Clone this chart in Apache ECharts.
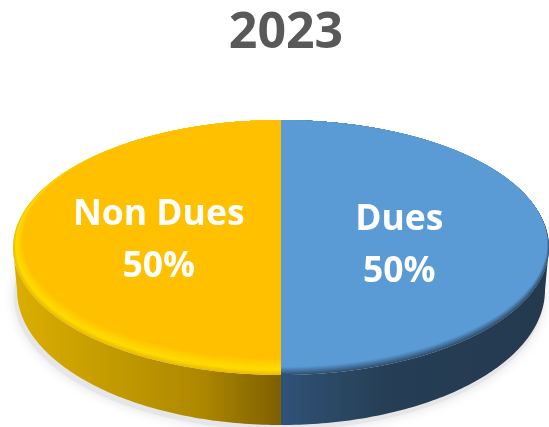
<!DOCTYPE html>
<html>
<head>
<meta charset="utf-8">
<style>html,body{margin:0;padding:0;background:#fff}#c{width:549px;height:427px}</style>
<script src="https://cdn.jsdelivr.net/npm/echarts@6/dist/echarts.min.js"></script>
</head>
<body>
<div id="c"></div>
<script>
const titleText = '2023';
const categories = ['Dues', 'Non Dues'];
const values = [50, 50];

const total = values.reduce((a, b) => a + b, 0);
const FONT = '"Open Sans","Noto Sans",sans-serif';
const top3d = { cx: 281, cy: 247.5, rx: 268, ry: 127.5 };
const bottom3d = { cx: 281, cy: 290, rx: 264, ry: 135 };
const looks = [
  { face: '#5B9BD5', bevel: 4, sideShrink: 0.5, rimStops: [[0, '#2f4f6e'], [1, '#5B9BD5']],
    wall: [[0, '#30527a'], [0.18, '#2b4966'], [0.38, '#263f56'], [1, '#24394e']], wallX: [281, 549],
    labelDx: -1, labelDy: -1.5 },
  { face: '#FFC000', bevel: 8, sideShrink: 1.2, rimStops: [[0, '#ecbd00'], [0.3, '#ffdc00'], [0.72, '#ffcd00'], [1, '#FFC000']],
    wall: [[0, '#dcae00'], [0.35, '#c49c00'], [0.7, '#ae8800'], [1, '#7d5f00']], wallX: [13, 281],
    labelDx: -3, labelDy: -7 }
];

function hex(c) { return [1, 3, 5].map(i => parseInt(c.slice(i, i + 2), 16)); }
function mix(stops, t) {
  for (let i = 1; i < stops.length; i++) {
    if (t <= stops[i][0]) {
      const k = (t - stops[i - 1][0]) / (stops[i][0] - stops[i - 1][0]);
      const a = hex(stops[i - 1][1]), b = hex(stops[i][1]);
      return 'rgb(' + a.map((v, j) => Math.round(v + (b[j] - v) * k)).join(',') + ')';
    }
  }
  return stops[stops.length - 1][1];
}
function pt(e, deg) {
  const r = deg * Math.PI / 180;
  return [e.cx + e.rx * Math.sin(r), e.cy - e.ry * Math.cos(r)];
}
function arc(e, a0, a1) {
  const out = [], n = Math.max(2, Math.ceil(Math.abs(a1 - a0)));
  for (let i = 0; i <= n; i++) out.push(pt(e, a0 + (a1 - a0) * i / n));
  return out;
}
function sliceAngles(i) {
  const before = values.slice(0, i).reduce((a, b) => a + b, 0);
  return [before / total * 360, (before + values[i]) / total * 360];
}

function renderSlice(params) {
  const i = params.dataIndex, look = looks[i];
  const [a0, a1] = sliceAngles(i);
  const children = [];
  const w0 = Math.max(a0, 90), w1 = Math.min(a1, 270);
  if (w1 > w0) {
    children.push({
      type: 'polygon',
      shape: { points: arc(top3d, w0, w1).concat(arc(bottom3d, w1, w0)) },
      style: { fill: { type: 'linear', global: true, x: look.wallX[0], y: 0, x2: look.wallX[1], y2: 0,
        colorStops: look.wall.map(s => ({ offset: s[0], color: s[1] })) } }
    });
  }
  const steps = 14;
  for (let s = 0; s <= steps; s++) {
    const t = s / steps, d = look.bevel * t;
    const e = { cx: top3d.cx, cy: top3d.cy - d, rx: top3d.rx - d * look.sideShrink, ry: top3d.ry - d };
    children.push({
      type: 'polygon',
      shape: { points: [[e.cx, e.cy]].concat(arc(e, a0, a1)) },
      style: { fill: mix(look.rimStops, t) }
    });
  }
  const mid = (a0 + a1) / 2;
  const anchor = pt({ cx: top3d.cx, cy: top3d.cy, rx: top3d.rx * 0.445, ry: top3d.ry * 0.445 }, mid);
  const pct = Math.round(values[i] / total * 100) + '%';
  children.push({
    type: 'text',
    x: anchor[0] + look.labelDx, y: anchor[1] + look.labelDy,
    style: { text: categories[i] + '\n' + pct, fill: '#fff', font: 'bold 35.5px ' + FONT,
      lineHeight: 52, align: 'center', verticalAlign: 'middle' }
  });
  return { type: 'group', children };
}

function renderShadow() {
  return {
    type: 'ellipse',
    shape: { cx: bottom3d.cx - 2, cy: bottom3d.cy + 6, rx: bottom3d.rx + 1, ry: bottom3d.ry - 1 },
    style: { fill: '#e6e6e9', shadowBlur: 12, shadowColor: '#e2e2e6' }
  };
}

const chart = echarts.init(document.getElementById('c'), null, { renderer: 'canvas' });
chart.setOption({
  animation: false,
  backgroundColor: '#fff',
  title: {
    text: titleText, left: 281, top: 4, textAlign: 'center',
    textStyle: { fontFamily: FONT, fontWeight: 'bold', fontSize: 50, color: '#595959' }
  },
  series: [
    { type: 'custom', coordinateSystem: 'none', silent: true, renderItem: renderShadow, data: [total] },
    { type: 'custom', coordinateSystem: 'none', silent: true, renderItem: renderSlice,
      data: categories.map((name, i) => ({ name, value: values[i] })) }
  ]
});
</script>
</body>
</html>
